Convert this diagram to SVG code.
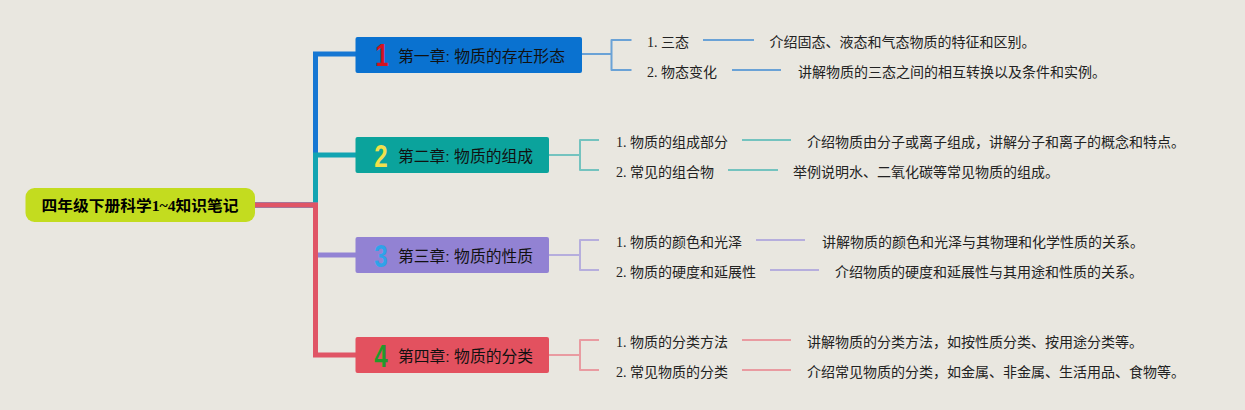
<svg xmlns="http://www.w3.org/2000/svg" width="1245" height="410" viewBox="0 0 1245 410">
<style>
.bg{fill:#e9e7e0}
.trunk{fill:none;stroke-width:5;stroke-linejoin:miter}
.br{fill:none;stroke-width:2;stroke-linejoin:round}
.ln{fill:none;stroke-width:2}
.root{font-family:"Liberation Serif","Noto Sans CJK SC",serif;font-weight:bold;font-size:15px;fill:#000}
.title{font-family:"Liberation Sans","Noto Sans CJK SC",sans-serif;font-size:15.5px;fill:#111}
.num{font-family:"Liberation Sans",Arial,sans-serif;font-weight:bold;font-size:32px;text-anchor:middle}
.sub{font-family:"Liberation Serif","Noto Sans CJK SC",serif;font-size:14px;fill:#222}
.c1{stroke:#1677d3}.c2{stroke:#12a4b2}.c3{stroke:#9383d4}.c4{stroke:#e05566}
.l1{stroke:#6aa2d6}.l2{stroke:#74c3bf}.l3{stroke:#b6aedd}.l4{stroke:#e99ba1}
</style>
<rect class="bg" x="0" y="0" width="1245" height="410"/>
<g id="connectors">
<path class="trunk c1" d="M255,205 H315.5 V54 H357"/>
<path class="trunk c2" d="M255,205 H315.5 V155 H357"/>
<path class="trunk c3" d="M255,205 H315.5 V255 H357"/>
<path class="trunk c4" d="M255,205 H315.5 V355 H357"/>
<path class="br l1" d="M582,54 H611.5 M631.5,40 H611.5 V70 H631.5"/>
<path class="br l2" d="M549,155 H580 M599,140 H580 V170 H599"/>
<path class="br l3" d="M549,255 H580 M599,240 H580 V270 H599"/>
<path class="br l4" d="M549,355 H580 M599,340 H580 V370 H599"/>
<path class="ln l1" d="M703,40 H754 M732,70 H781"/>
<path class="ln l2" d="M742,140 H791 M728,170 H778"/>
<path class="ln l3" d="M756,240 H805 M770,270 H819"/>
<path class="ln l4" d="M742,340 H791 M742,370 H791"/>
</g>
<g id="root">
<rect x="25.5" y="188" width="229.5" height="34" rx="9" fill="#c3dc1f"/>
<text class="root" x="41.5" y="210.5" textLength="197" lengthAdjust="spacingAndGlyphs">四年级下册科学1~4知识笔记</text>
</g>
<g id="ch1">
<rect x="355.5" y="37" width="226.5" height="36" rx="2" fill="#0a72d0"/>
<text class="num" transform="translate(382,66) scale(0.75,1)" fill="#d3141f">1</text>
<text class="title" x="398" y="61.5" textLength="167" lengthAdjust="spacingAndGlyphs">第一章: 物质的存在形态</text>
</g>
<g id="ch2">
<rect x="355.5" y="137" width="193.5" height="36" rx="2" fill="#0ba39c"/>
<text class="num" transform="translate(381,166.5) scale(0.75,1)" fill="#f1e04b">2</text>
<text class="title" x="398" y="161.5" textLength="135" lengthAdjust="spacingAndGlyphs">第二章: 物质的组成</text>
</g>
<g id="ch3">
<rect x="355.5" y="237" width="193.5" height="36" rx="2" fill="#9282d3"/>
<text class="num" transform="translate(381,266.5) scale(0.75,1)" fill="#2ea3e9">3</text>
<text class="title" x="398" y="261.5" textLength="135" lengthAdjust="spacingAndGlyphs">第三章: 物质的性质</text>
</g>
<g id="ch4">
<rect x="355.5" y="337" width="193.5" height="36" rx="2" fill="#e3515f"/>
<text class="num" transform="translate(381,366.5) scale(0.75,1)" fill="#22992b">4</text>
<text class="title" x="398" y="361.5" textLength="135" lengthAdjust="spacingAndGlyphs">第四章: 物质的分类</text>
</g>
<g id="ch1-subs">
<text class="sub" x="647" y="47">1. 三态</text>
<text class="sub" x="769.5" y="47">介绍固态、液态和气态物质的特征和区别。</text>
<text class="sub" x="647" y="77">2. 物态变化</text>
<text class="sub" x="798" y="77">讲解物质的三态之间的相互转换以及条件和实例。</text>
</g>
<g id="ch2-subs">
<text class="sub" x="616" y="147">1. 物质的组成部分</text>
<text class="sub" x="807" y="147">介绍物质由分子或离子组成，讲解分子和离子的概念和特点。</text>
<text class="sub" x="616" y="177">2. 常见的组合物</text>
<text class="sub" x="793" y="177">举例说明水、二氧化碳等常见物质的组成。</text>
</g>
<g id="ch3-subs">
<text class="sub" x="616" y="247">1. 物质的颜色和光泽</text>
<text class="sub" x="822" y="247">讲解物质的颜色和光泽与其物理和化学性质的关系。</text>
<text class="sub" x="616" y="277">2. 物质的硬度和延展性</text>
<text class="sub" x="835" y="277">介绍物质的硬度和延展性与其用途和性质的关系。</text>
</g>
<g id="ch4-subs">
<text class="sub" x="616" y="347">1. 物质的分类方法</text>
<text class="sub" x="807" y="347">讲解物质的分类方法，如按性质分类、按用途分类等。</text>
<text class="sub" x="616" y="377">2. 常见物质的分类</text>
<text class="sub" x="807" y="377">介绍常见物质的分类，如金属、非金属、生活用品、食物等。</text>
</g>
</svg>
